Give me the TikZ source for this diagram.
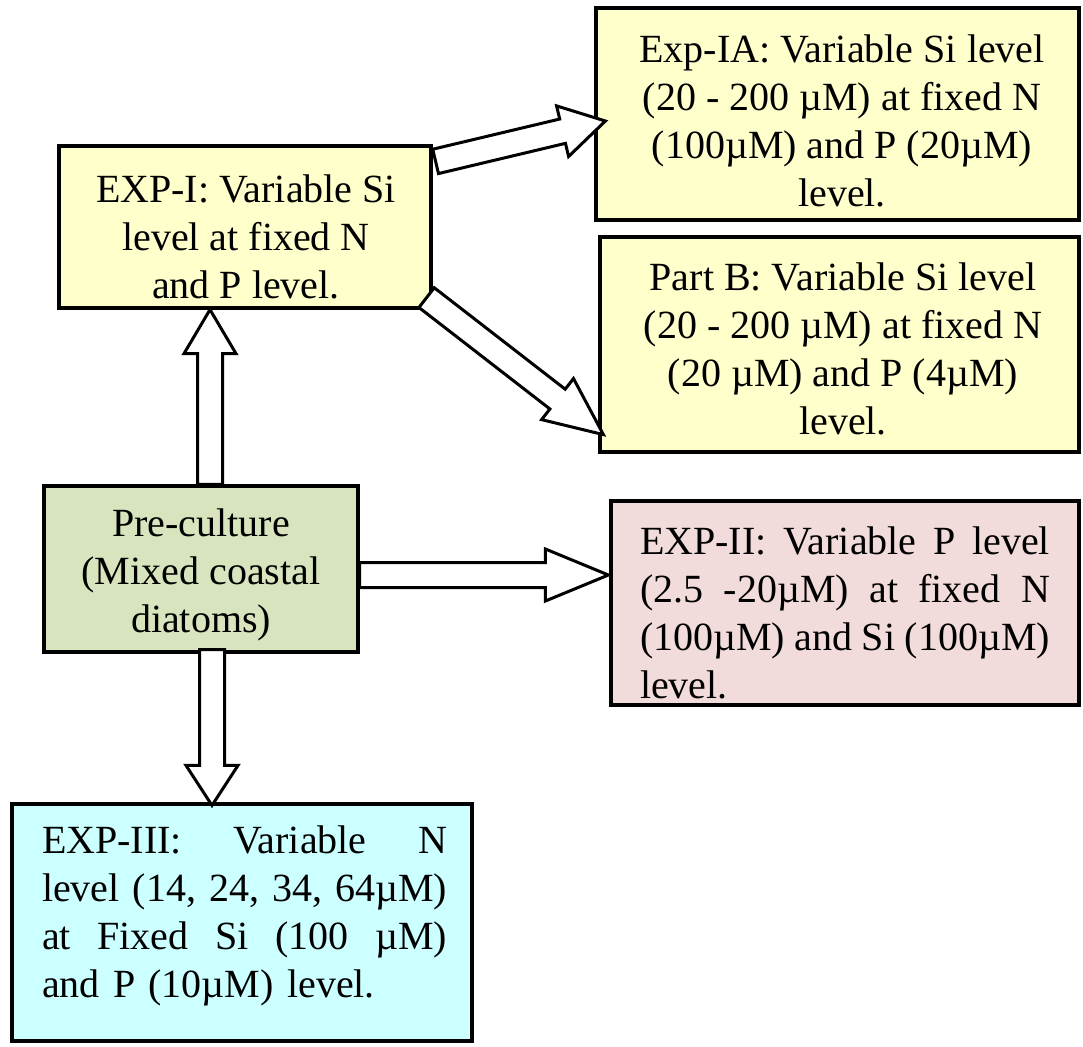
\documentclass[tikz,border=0pt]{standalone}
\usepackage{fontspec}
\setmainfont{Liberation Serif}
\usetikzlibrary{calc}
\definecolor{boxyellow}{HTML}{FFFFCC}
\definecolor{boxgreen}{HTML}{D7E4BD}
\definecolor{boxpink}{HTML}{F2DCDB}
\definecolor{boxcyan}{HTML}{CCFFFF}
\tikzset{
  box/.style={draw=black, line width=1.6pt, inner sep=0pt, anchor=center},
  txt/.style={font=\fontsize{20}{24}\selectfont, inner sep=0pt, align=center, anchor=center},
  jtxt/.style={font=\fontsize{20}{24}\selectfont, inner sep=0pt, align=left, anchor=center},
  barrow/.style={draw=black, line width=1.5pt, fill=white, line join=miter},
}
% #1 start, #2 tip, #3 head length
\newcommand\blockarr[3]{%
  \coordinate (ba-b) at ($(#2)!#3!(#1)$);
  \draw[barrow] ($(#1)!6.25pt!90:(#2)$) -- ($(ba-b)!6.25pt!90:(#2)$) -- ($(ba-b)!13pt!90:(#2)$)
    -- (#2) -- ($(ba-b)!13pt!-90:(#2)$) -- ($(ba-b)!6.25pt!-90:(#2)$) -- ($(#1)!6.25pt!-90:(#2)$) -- cycle;
}
\newcommand\jline[2]{\leavevmode\hbox to #1{#2}}
\begin{document}
\begin{tikzpicture}[x=0.5pt,y=-0.5pt]
\useasboundingbox (0,0) rectangle (1083,1046);
% boxes
\node[box, fill=boxyellow, minimum width=241.5pt, minimum height=106pt] (expIA) at (837.5,114) {};
\node[box, fill=boxyellow, minimum width=239.5pt, minimum height=107.5pt] (partB) at (839.5,344.5) {};
\node[box, fill=boxyellow, minimum width=186pt, minimum height=81pt] (exp1) at (245,227) {};
\node[box, fill=boxgreen, minimum width=157pt, minimum height=83pt] (pre) at (201,569) {};
\node[box, fill=boxpink, minimum width=234pt, minimum height=102pt] (exp2) at (845,603) {};
\node[box, fill=boxcyan, minimum width=230pt, minimum height=118.5pt] (exp3) at (242,922.5) {};
% texts
\node[txt] (expIAt) at (842,121) {Exp-IA: Variable Si level\\(20 - 200 µM) at fixed N\\(100µM) and P (20µM)\\level.};
\node[txt] (partBt) at (843,349) {Part B: Variable Si level\\(20 - 200 µM) at fixed N\\(20 µM) and P (4µM)\\level.};
\node[txt] (exp1t) at (246,237) {EXP-I: Variable Si\\level at fixed N\\and P level.};
\node[txt] (pret) at (201,575) {Pre-culture\\(Mixed coastal\\diatoms)};
\node[jtxt, text width=205pt] (exp2t) at (845,613) {%
\jline{205pt}{EXP-II:\hfil Variable\hfil P\hfil level}\\
\jline{205pt}{(2.5\hfil -20µM)\hfil at\hfil fixed\hfil N}\\
\jline{205pt}{(100µM)\hfil and\hfil Si\hfil (100µM)}\\
level.};
\node[jtxt, text width=202.5pt] (exp3t) at (244.5,916) {%
\jline{202.5pt}{EXP-III:\hfil Variable\hfil N}\\
\jline{202.5pt}{level\hfil (14,\hfil 24,\hfil 34,\hfil 64µM)}\\
\jline{202.5pt}{at\hfil Fixed\hfil Si\hfil (100\hfil µM)}\\
and P (10µM) level.};
% arrow end points
\coordinate (a1s) at ($(exp1.north east)+(3,17)$);
\coordinate (a1t) at ($(expIA.west)+(11,7)$);
\coordinate (a2s) at ($(exp1.south east)+(-6,-12)$);
\coordinate (a2t) at ($(partB.south west)+(5,-19)$);
\coordinate (a3s) at ($(pre.north)+(9,0)$);
\coordinate (a3t) at ($(exp1.south)+(-35,0)$);
\coordinate (a4s) at ($(pre.east)+(0,6)$);
\coordinate (a4t) at ($(exp2.west)+(-1,-28)$);
\coordinate (a5s) at ($(pre.south)+(11,-4)$);
\coordinate (a5t) at ($(exp3.north)+(-30,3)$);
% arrows
\blockarr{a1s}{a1t}{22pt}
\blockarr{a2s}{a2t}{29pt}
\blockarr{a3s}{a3t}{22pt}
\blockarr{a4s}{a4t}{31.5pt}
\blockarr{a5s}{a5t}{20pt}
\end{tikzpicture}
\end{document}
